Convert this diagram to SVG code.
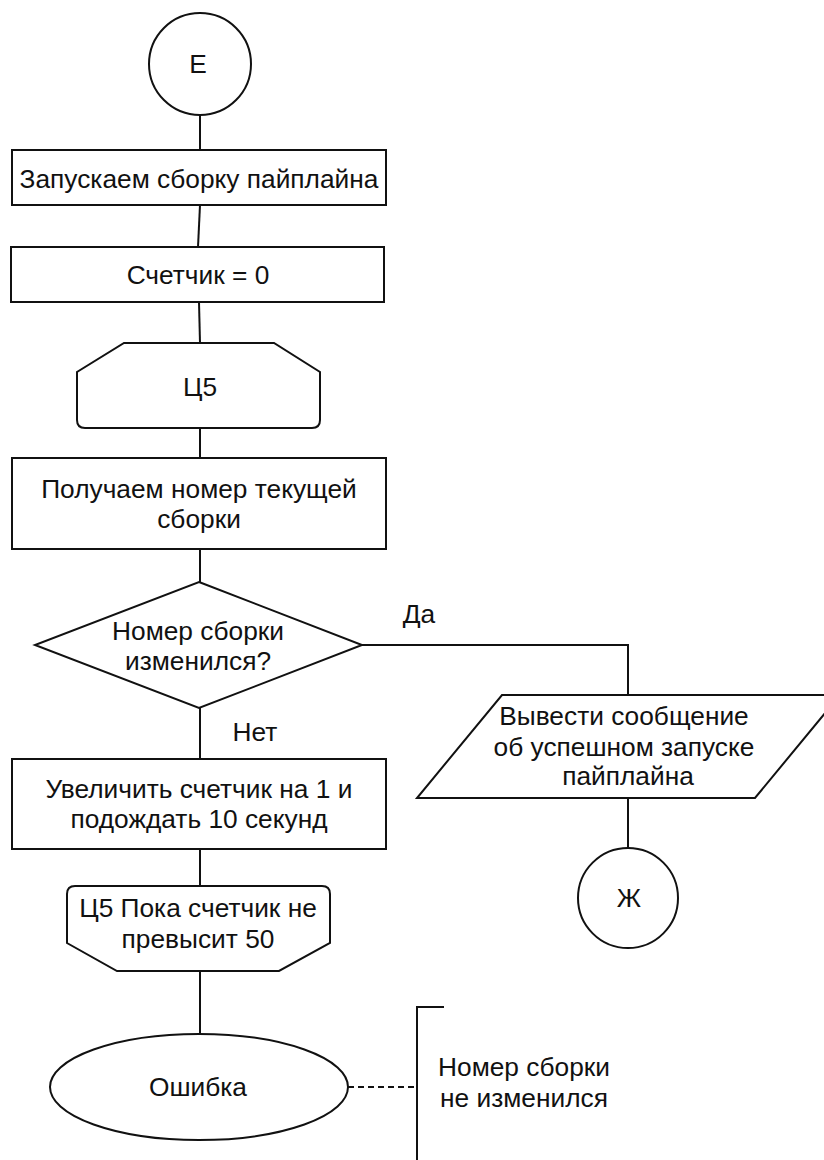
<svg xmlns="http://www.w3.org/2000/svg" width="824" height="1160" viewBox="0 0 824 1160">
<style>
.s{fill:#fff;stroke:#111;stroke-width:2}
.c{fill:none;stroke:#111;stroke-width:2}
.d{fill:none;stroke:#111;stroke-width:2;stroke-dasharray:6 4}
text{font-family:"Liberation Sans",Arial,sans-serif;font-size:26.3px;fill:#111;text-anchor:middle}
</style>
<rect width="824" height="1160" fill="#fff"/>
<g id="connectors">
<path class="c" d="M200,115 L200,150"/>
<path class="c" d="M200,205 L198,247"/>
<path class="c" d="M199,302 L200,343"/>
<path class="c" d="M200,428 L200,458"/>
<path class="c" d="M200,549 L200,582"/>
<path class="c" d="M362,645 L628,645 L628,695"/>
<path class="c" d="M628,798 L628,848"/>
<path class="c" d="M200,708 L200,759"/>
<path class="c" d="M200,849 L200,886"/>
<path class="c" d="M200,971 L200,1033"/>
<path class="d" d="M348,1087 L417,1087"/>
<text x="419" y="623">Да</text>
<text x="255" y="741">Нет</text>
</g>
<g id="start-E">
<circle class="s" cx="200" cy="64" r="51"/>
<text x="198" y="73">Е</text>
</g>
<g id="launch">
<rect class="s" x="12" y="150" width="374" height="55"/>
<text x="199" y="188">Запускаем сборку пайплайна</text>
</g>
<g id="counter">
<rect class="s" x="11" y="247" width="373" height="55"/>
<text x="198" y="284">Счетчик = 0</text>
</g>
<g id="loop-start">
<path class="s" d="M124,343 L274,343 L320,372 L320,420 Q320,428 312,428 L85,428 Q77,428 77,420 L77,372 Z"/>
<text x="200" y="396">Ц5</text>
</g>
<g id="get-number">
<rect class="s" x="12" y="458" width="374" height="91"/>
<text x="199" y="498">Получаем номер текущей</text>
<text x="199" y="528">сборки</text>
</g>
<g id="decision">
<polygon class="s" points="199,582 362,645 199,708 35,645"/>
<text x="198" y="640">Номер сборки</text>
<text x="198" y="670">изменился?</text>
</g>
<g id="output-success">
<polygon class="s" points="502,695 840,695 755,798 417,798"/>
<text x="624" y="725">Вывести сообщение</text>
<text x="624" y="756">об успешном запуске</text>
<text x="628" y="785">пайплайна</text>
</g>
<g id="end-Zh">
<circle class="s" cx="628" cy="898" r="50"/>
<text x="629" y="907">Ж</text>
</g>
<g id="increment">
<rect class="s" x="12" y="759" width="374" height="90"/>
<text x="199" y="798">Увеличить счетчик на 1 и</text>
<text x="199" y="828">подождать 10 секунд</text>
</g>
<g id="loop-end">
<path class="s" d="M75,886 L322,886 Q330,886 330,894 L330,943 L279,971 L117,971 L67,943 L67,894 Q67,886 75,886 Z"/>
<text x="198" y="917">Ц5 Пока счетчик не</text>
<text x="198" y="948">превысит 50</text>
</g>
<g id="error">
<ellipse class="s" cx="199" cy="1087" rx="149" ry="53"/>
<text x="198" y="1096">Ошибка</text>
</g>
<g id="annotation">
<path class="c" d="M444,1007 L417,1007 L417,1165"/>
<text x="524" y="1076">Номер сборки</text>
<text x="524" y="1107">не изменился</text>
</g>
</svg>
